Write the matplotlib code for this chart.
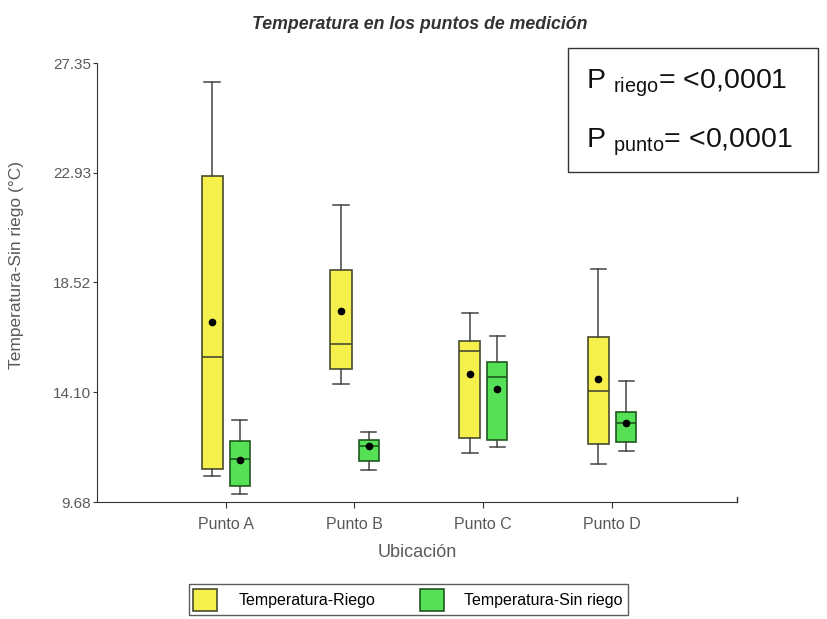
import matplotlib.pyplot as plt
import numpy as np

plt.rcParams['font.family'] = ['Liberation Sans', 'DejaVu Sans']
plt.rcParams['mathtext.fontset'] = 'custom'
plt.rcParams['mathtext.rm'] = 'Liberation Sans'

# datos (°C)
puntos = ['Punto A', 'Punto B', 'Punto C', 'Punto D']
# Temperatura-Riego
riego_wlo = [10.73, 14.45, 11.66, 11.22]
riego_q1 = [11.01, 15.02, 12.27, 12.03]
riego_med = [15.50, 16.03, 15.75, 14.13]
riego_mean = [16.92, 17.36, 14.82, 14.65]
riego_q3 = [22.82, 19.02, 16.15, 16.31]
riego_whi = [26.58, 21.65, 17.28, 19.06]
# Temperatura-Sin riego
sin_wlo = [10.00, 10.97, 11.90, 11.74]
sin_q1 = [10.33, 11.34, 12.19, 12.11]
sin_med = [11.42, 11.94, 14.70, 12.87]
sin_mean = [11.38, 11.94, 14.25, 12.87]
sin_q3 = [12.15, 12.19, 15.30, 13.32]
sin_whi = [13.00, 12.51, 16.35, 14.57]

yticks = [9.68, 14.10, 18.52, 22.93, 27.35]


def stats(wlo, q1, med, mean, q3, whi):
    return [dict(whislo=a, q1=b, med=c, mean=d, q3=e, whishi=f, fliers=[])
            for a, b, c, d, e, f in zip(wlo, q1, med, mean, q3, whi)]


fig = plt.figure(figsize=(8.28, 6.19), dpi=100)
ax = fig.add_axes([0.117, 0.189, 0.773, 0.709])

x = np.arange(len(puntos))
grupos = [
    (stats(riego_wlo, riego_q1, riego_med, riego_mean, riego_q3, riego_whi),
     x - 0.105, 0.165, '#f6f04c', '#4a4a30', 'Temperatura-Riego'),
    (stats(sin_wlo, sin_q1, sin_med, sin_mean, sin_q3, sin_whi),
     x + 0.11, 0.155, '#55e055', '#1f5a1f', 'Temperatura-Sin riego'),
]
handles = []
for st, pos, w, fc, ec, lab in grupos:
    ax.bxp(st, positions=pos, widths=w, patch_artist=True, showmeans=True,
           showfliers=False, manage_ticks=False,
           boxprops=dict(facecolor=fc, edgecolor=ec, linewidth=1.2),
           medianprops=dict(color=ec, linewidth=1.2),
           whiskerprops=dict(color='#444444', linewidth=1.1),
           capprops=dict(color='#444444', linewidth=1.1),
           capwidths=w * 0.75,
           meanprops=dict(marker='o', markerfacecolor='black',
                          markeredgecolor='black', markersize=4.5))
    handles.append(plt.Rectangle((0, 0), 1, 1, facecolor=fc, edgecolor=ec, linewidth=1.2, label=lab))

ax.set_xlim(-1.0, 3.97)
ax.set_ylim(9.68, 27.35)
ax.set_xticks(x)
ax.set_xticklabels(puntos, fontsize=11.5, color='#5a5a5a')
ax.set_yticks(yticks)
ax.set_yticklabels(['%.2f' % v for v in yticks], fontsize=11, color='#5a5a5a')
ax.spines['top'].set_visible(False)
ax.spines['right'].set_visible(False)
for s in ['left', 'bottom']:
    ax.spines[s].set_color('#333333')
ax.tick_params(axis='x', length=4, color='#333333', pad=7)
ax.tick_params(axis='y', length=3, color='#333333', pad=1)
ax.axvline(3.97, ymin=0, ymax=0.012, color='#333333', linewidth=1, clip_on=False)

ax.set_xlabel('Ubicación', fontsize=13, color='#5a5a5a')
ax.xaxis.set_label_coords(0.50, -0.095)
ax.set_ylabel('Temperatura-Sin riego (°C)', fontsize=12.5, color='#5a5a5a')
ax.yaxis.set_label_coords(-0.114, 0.54)
fig.text(0.507, 0.961, 'Temperatura en los puntos de medición', fontsize=12.8, fontweight='bold',
         style='italic', color='#333333', ha='center', va='center')

# cuadro con valores P
caja = plt.Rectangle((0.686, 0.722), 0.302, 0.200, transform=fig.transFigure,
                     facecolor='white', edgecolor='#333333', linewidth=1)
fig.add_artist(caja)
fig.text(0.708, 0.858, r'P $_{\mathrm{riego}}$= <0,0001', fontsize=20.5, va='baseline', color='#111111')
fig.text(0.708, 0.763, r'P $_{\mathrm{punto}}$= <0,0001', fontsize=20.5, va='baseline', color='#111111')

fig.legend(handles=handles, loc='center', bbox_to_anchor=(0.493, 0.031),
           ncol=2, fontsize=11.5, frameon=True, fancybox=False, edgecolor='#333333',
           handlelength=1.5, handleheight=1.7, columnspacing=2.8, handletextpad=1.3,
           borderpad=0.3, borderaxespad=0)

plt.savefig('out.png', dpi=100)
